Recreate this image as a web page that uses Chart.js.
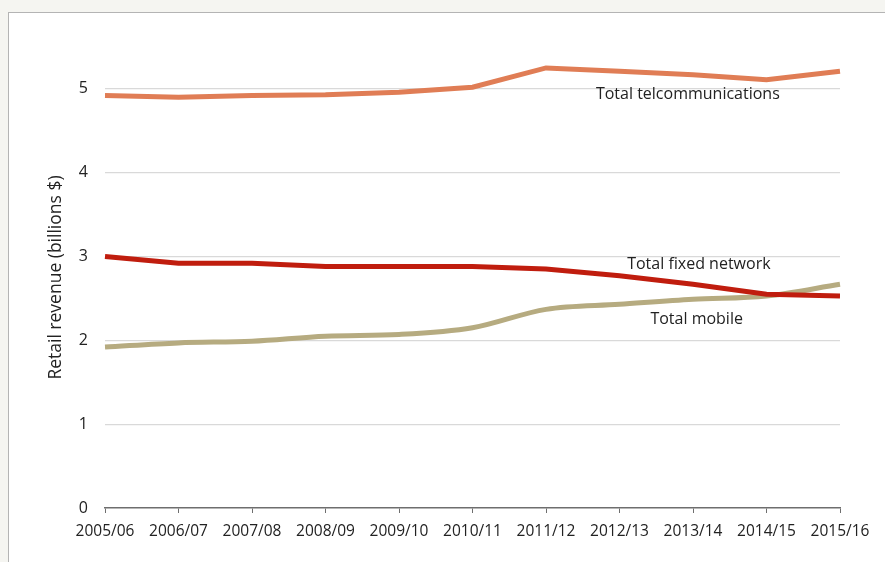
<!DOCTYPE html>
<html>
<head>
<meta charset="utf-8">
<script src="https://cdn.jsdelivr.net/npm/chart.js@4/dist/chart.umd.min.js"></script>
<style>
  html, body { margin: 0; padding: 0; background: #f5f5f1; overflow: hidden; }
  #frame {
    position: absolute; left: 8px; top: 12px; width: 900px; height: 600px;
    background: #fff; border: 1px solid #b4b4b4;
  }
  #wrap { position: absolute; left: 0; top: 0; width: 885px; height: 562px; }
</style>
</head>
<body>
<div id="frame"></div>
<div id="wrap"><canvas id="revenueChart" width="885" height="562"></canvas></div>
<script>
const years = ["2005/06", "2006/07", "2007/08", "2008/09", "2009/10", "2010/11",
               "2011/12", "2012/13", "2013/14", "2014/15", "2015/16"];
const totalTelco = [4.92, 4.90, 4.92, 4.93, 4.96, 5.02, 5.25, 5.21, 5.17, 5.11, 5.21];
const totalFixed = [3.00, 2.92, 2.92, 2.88, 2.88, 2.88, 2.85, 2.77, 2.67, 2.55, 2.53];
const totalMobile = [1.92, 1.97, 1.99, 2.05, 2.07, 2.15, 2.37, 2.43, 2.49, 2.53, 2.67];
const yTicks = [0, 1, 2, 3, 4, 5];

// in-chart series labels: [text, category position, value]
const seriesLabels = [
    ["Total telcommunications", 7.93, 4.93],
    ["Total fixed network", 8.08, 2.91],
    ["Total mobile", 8.05, 2.25],
];

const FONT = "'Open Sans', sans-serif";
const TEXT = "#222";

const labelPlugin = {
    id: "seriesLabels",
    afterDatasetsDraw(chart) {
        const { ctx, scales } = chart;
        ctx.save();
        ctx.font = "16px " + FONT;
        ctx.fillStyle = TEXT;
        ctx.textAlign = "center";
        ctx.textBaseline = "middle";
        for (const [text, xi, yv] of seriesLabels) {
            ctx.fillText(text, scales.x.getPixelForValue(xi), scales.y.getPixelForValue(yv));
        }
        ctx.restore();
    },
};

new Chart(document.getElementById("revenueChart"), {
    type: "line",
    data: {
        labels: years,
        datasets: [
            {
                label: "Total telcommunications",
                data: totalTelco,
                borderColor: "#e07d55",
                borderWidth: 5,
                tension: 0,
            },
            {
                label: "Total fixed network",
                data: totalFixed,
                borderColor: "#c01d0e",
                borderWidth: 5,
                tension: 0,
            },
            {
                label: "Total mobile",
                data: totalMobile,
                borderColor: "#b6ab80",
                borderWidth: 5,
                cubicInterpolationMode: "monotone",
            },
        ],
    },
    options: {
        responsive: false,
        animation: false,
        devicePixelRatio: 1,
        layout: { padding: { left: 0, right: 45, top: 47, bottom: 0 } },
        elements: { point: { radius: 0 }, line: { borderCapStyle: "butt" } },
        plugins: {
            legend: { display: false },
            tooltip: { enabled: false },
        },
        scales: {
            x: {
                offset: false,
                grid: {
                    display: true,
                    drawOnChartArea: false,
                    drawTicks: true,
                    tickLength: 5,
                    color: "#6e6e6e",
                },
                border: { display: true, color: "#6e6e6e", width: 1.5 },
                ticks: {
                    font: { family: FONT, size: 15.5 },
                    color: TEXT,
                    padding: 9,
                    maxRotation: 0,
                    autoSkip: false,
                },
                afterFit(scale) { scale.height = 54; },
            },
            y: {
                min: 0,
                max: 5.5,
                afterBuildTicks(scale) {
                    scale.ticks = yTicks.map(v => ({ value: v }));
                },
                grid: {
                    color: ctx => ctx.tick && ctx.tick.value === 0 ? "rgba(0,0,0,0)" : "#d9d9d9",
                    lineWidth: 1.2,
                    drawTicks: false,
                    tickLength: 0,
                },
                border: { display: false },
                ticks: {
                    font: { family: FONT, size: 16 },
                    color: TEXT,
                    padding: 17,
                },
                title: {
                    display: true,
                    text: "Retail revenue (billions $)",
                    font: { family: FONT, size: 17.5 },
                    color: TEXT,
                    padding: { top: 46, bottom: 0 },
                },
                afterFit(scale) { scale.width = 105; },
            },
        },
    },
    plugins: [labelPlugin],
});
</script>
</body>
</html>
